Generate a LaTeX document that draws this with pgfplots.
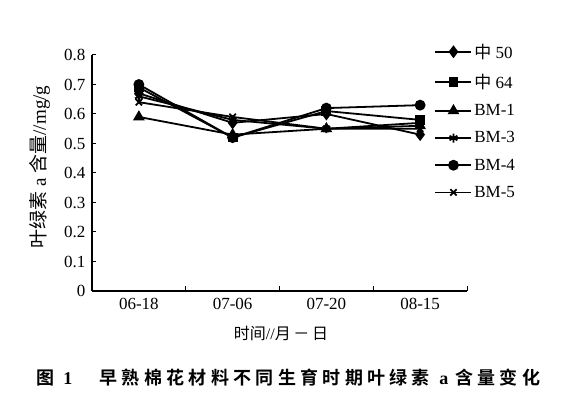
\documentclass[border=0pt]{standalone}
\usepackage{pgfplots}
\pgfplotsset{compat=1.18}
\usepackage{fontspec}
\setmainfont{Liberation Serif}
\newfontfamily\cjk{Noto Sans CJK SC}
\newfontfamily\cjkcap{Noto Sans CJK SC Bold}[LetterSpace=24]
\begin{document}
\begin{tikzpicture}[x=1pt,y=1pt]
\useasboundingbox (0,0) rectangle (577,396);
\begin{axis}[at={(92pt,105pt)}, anchor=south west,
  width=375pt, height=236pt, scale only axis,
  axis lines=left, axis line style={-, line width=1.1pt},
  xmin=0.5, xmax=4.5, ymin=0, ymax=0.8,
  xtick={1,2,3,4}, xticklabels={06-18,07-06,07-20,08-15},
  minor xtick={1.5,2.5,3.5,4.5},
  major x tick style={draw=none},
  minor tick length=5pt,
  ytick={0,0.1,0.2,0.3,0.4,0.5,0.6,0.7,0.8},
  yticklabels={0,0.1,0.2,0.3,0.4,0.5,0.6,0.7,0.8},
  major tick length=4pt, tick align=inside,
  tick style={line width=1pt, black},
  ticklabel style={font=\fontsize{17}{17}\selectfont},
  /pgf/number format/assume math mode=true,
  xticklabel style={yshift=-4pt},
  yticklabel style={xshift=-3pt},
  clip=false,
  legend style={at={(0.905,1.065)}, anchor=north west, draw=none, fill=none,
    font=\fontsize{17}{17}\selectfont, row sep=10.5pt,
    legend cell align=left},
  legend image code/.code={\draw[black, line width=1.8pt] (0pt,0pt) -- (36pt,0pt); \draw[#1,mark repeat=2,mark phase=2] plot coordinates {(0pt,0pt)(18pt,0pt)(36pt,0pt)};},
]
\addplot[black, line width=1.8pt, mark=diamond*, mark size=5pt, mark options={solid, fill=black}] coordinates {(1,0.67)(2,0.57)(3,0.60)(4,0.53)};
\addlegendentry{{\cjk 中} 50}
\addplot[black, line width=1.8pt, mark=square*, mark size=4pt, mark options={solid, fill=black}] coordinates {(1,0.69)(2,0.52)(3,0.61)(4,0.58)};
\addlegendentry{{\cjk 中} 64}
\addplot[black, line width=1.8pt, mark=triangle*, mark size=5pt, mark options={solid, fill=black}] coordinates {(1,0.59)(2,0.53)(3,0.55)(4,0.56)};
\addlegendentry{BM{-}1}
\addplot[black, line width=1.8pt, mark=asterisk, mark size=4.5pt, mark options={solid}] coordinates {(1,0.66)(2,0.58)(3,0.55)(4,0.57)};
\addlegendentry{BM{-}3}
\addplot[black, line width=1.8pt, mark=*, mark size=4.5pt, mark options={solid, fill=black}] coordinates {(1,0.70)(2,0.52)(3,0.62)(4,0.63)};
\addlegendentry{BM{-}4}
\addplot[black, line width=1.8pt, mark=x, mark size=4.5pt, mark options={solid}] coordinates {(1,0.64)(2,0.59)(3,0.55)(4,0.55)};
\addlegendentry{BM{-}5}
\end{axis}
\node[rotate=90] at (40,229) {\fontsize{19}{19}\selectfont{\cjk 叶绿素} a {\cjk 含量}//mg/g};
\node at (281,63) {\fontsize{16}{16}\selectfont{\cjk 时间}//{\cjk 月}\,{\cjk －}\,{\cjk 日}};
\node[anchor=west] at (33,18) {\fontsize{18}{18}\selectfont{\cjkcap 图} \textbf{1}};
\node[anchor=west] at (96,18) {\fontsize{18}{18}\selectfont{\cjkcap 早熟棉花材料不同生育时期叶绿素}\hspace{5pt}\textbf{a}\hspace{7pt}{\cjkcap 含量变化}};
\end{tikzpicture}
\end{document}
